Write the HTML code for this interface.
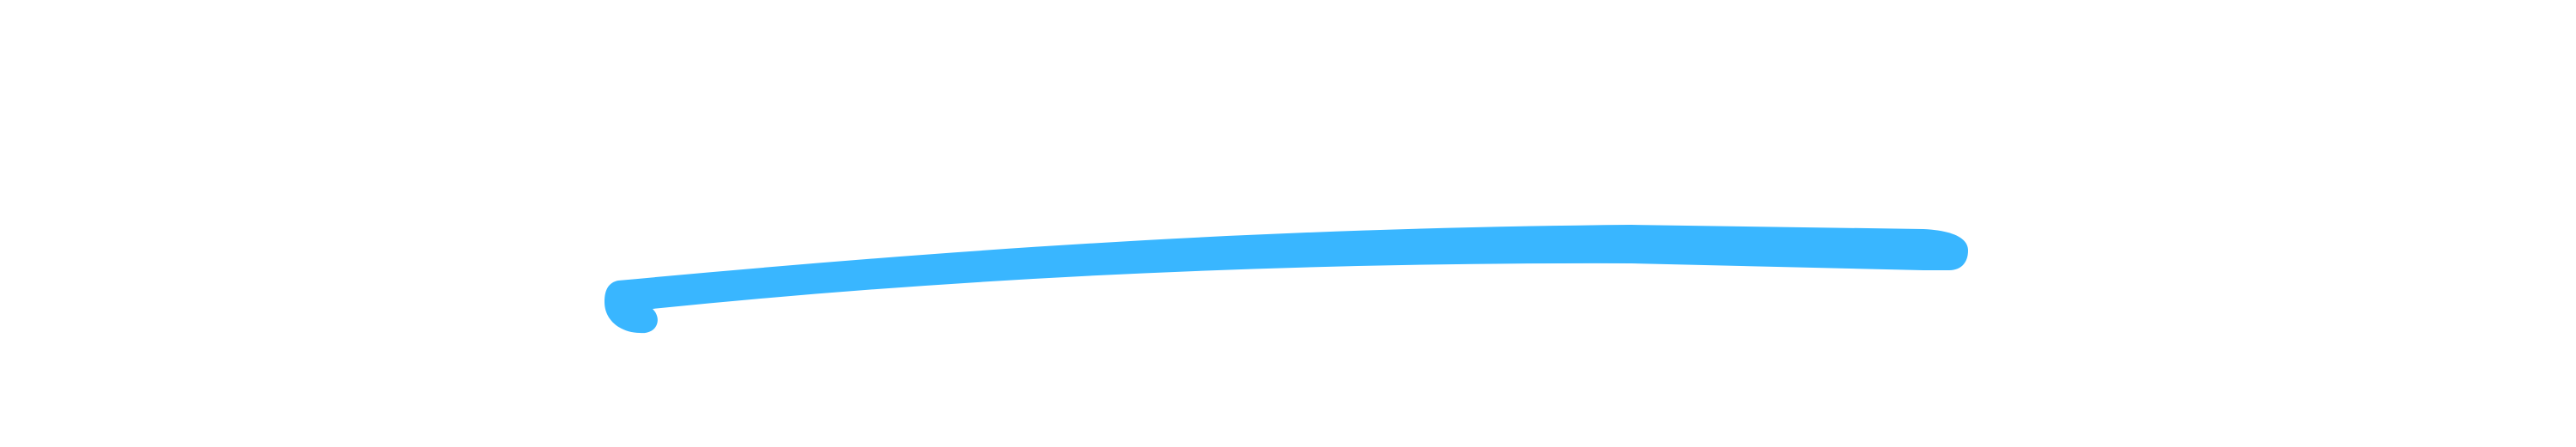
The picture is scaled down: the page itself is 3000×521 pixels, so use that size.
<!DOCTYPE html>
<html><head><meta charset="utf-8"><style>html,body{margin:0;padding:0;background:#fff;width:3000px;height:521px;overflow:hidden}</style></head>
<body>
<svg width="3000" height="521" viewBox="0 0 3000 521" xmlns="http://www.w3.org/2000/svg">
<path fill="#39b6ff" d="M720,327 C1100,292 1450,266 1900,262 L2240,267 C2280,269 2292,280 2292,292 C2292,306 2284,315 2270,315 L2240,315 L1900,307 Q1300,305 760,360 C772,372 765,390 745,388 C725,388 704,375 704,352 C704,336 710,329 720,327 Z"/>
</svg>
</body></html>
